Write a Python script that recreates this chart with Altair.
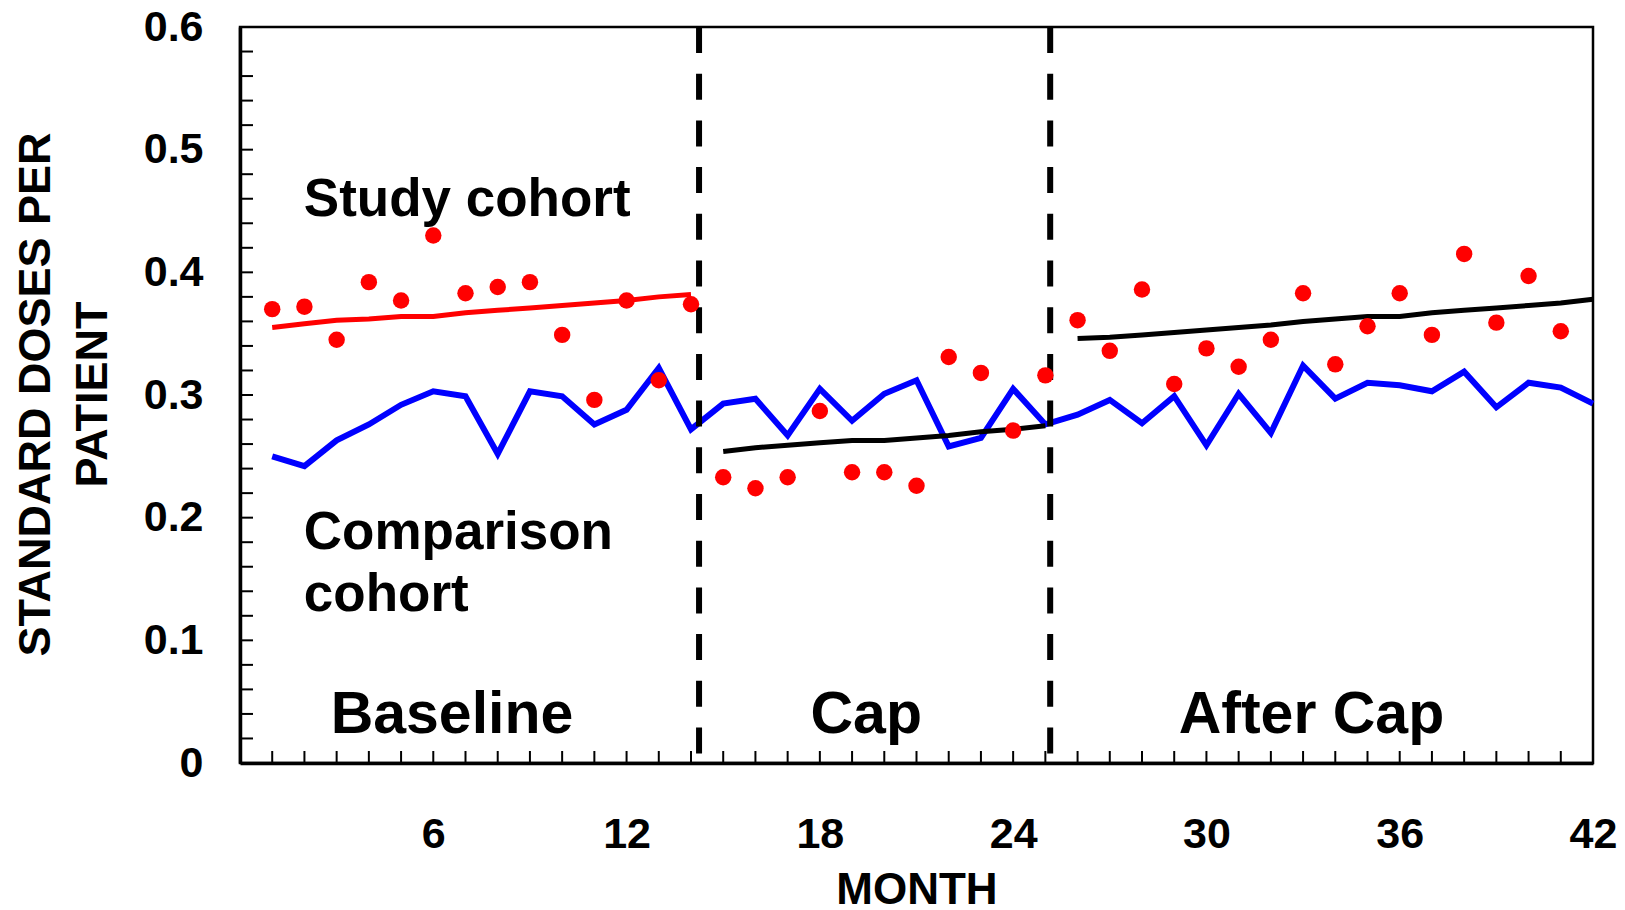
import altair as alt
import pandas as pd

# ---------------- data ----------------
months_all = list(range(1, 43))
comparison_cohort = [0.250, 0.242, 0.263, 0.276, 0.292, 0.303, 0.299, 0.252, 0.303, 0.299,
                     0.276, 0.288, 0.322, 0.272, 0.293, 0.297, 0.267, 0.305, 0.279, 0.301,
                     0.312, 0.258, 0.265, 0.305, 0.276, 0.284, 0.296, 0.277, 0.299, 0.259,
                     0.301, 0.269, 0.324, 0.297, 0.310, 0.308, 0.303, 0.319, 0.290, 0.310,
                     0.306, 0.293]

study_months = list(range(1, 42))
study_cohort = [0.370, 0.372, 0.345, 0.392, 0.377, 0.430, 0.383, 0.388, 0.392, 0.349,
                0.296, 0.377, 0.312, 0.374, 0.233, 0.224, 0.233, 0.287, 0.237, 0.237,
                0.226, 0.331, 0.318, 0.271, 0.316, 0.361, 0.336, 0.386, 0.309, 0.338,
                0.323, 0.345, 0.383, 0.325, 0.356, 0.383, 0.349, 0.415, 0.359, 0.397,
                0.352]

baseline_trend_months = list(range(1, 15))
baseline_trend = [0.355, 0.358, 0.361, 0.362, 0.364, 0.364, 0.367, 0.369, 0.371, 0.373,
                  0.375, 0.377, 0.380, 0.382]

cap_trend_months = list(range(15, 26))
cap_trend = [0.254, 0.257, 0.259, 0.261, 0.263, 0.263, 0.265, 0.267, 0.270, 0.272, 0.275]

after_trend_months = list(range(26, 43))
after_trend = [0.346, 0.347, 0.349, 0.351, 0.353, 0.355, 0.357, 0.360, 0.362, 0.364,
               0.364, 0.367, 0.369, 0.371, 0.373, 0.375, 0.378]

phase_bounds = [14.25, 25.15]

x_tick_labels = [6, 12, 18, 24, 30, 36, 42]
y_tick_labels = [0, 0.1, 0.2, 0.3, 0.4, 0.5, 0.6]
x_minor = list(range(1, 42))
y_minor = [round(0.02 * i, 2) for i in range(1, 30)]

note_text = ["Study cohort", "Comparison", "cohort"]
note_month = [1.98, 1.98, 1.98]
note_value = [0.446, 0.1744, 0.1243]

phase_text = ["Baseline", "Cap", "After Cap"]
phase_month = [6.58, 19.44, 33.26]
phase_value = [0.0245, 0.0245, 0.0245]

# ---------------- chart ----------------
W, H = 1353, 736
FONT = "Liberation Sans"
xs = alt.Scale(domain=[0, 42], nice=False, zero=False)
ys = alt.Scale(domain=[0, 0.6], nice=False, zero=False)

blue_df = pd.DataFrame({"m": months_all, "v": comparison_cohort})
red_df = pd.DataFrame({"m": study_months, "v": study_cohort})
rt_df = pd.DataFrame({"m": baseline_trend_months, "v": baseline_trend})
bt_df = pd.DataFrame({
    "m": cap_trend_months + after_trend_months,
    "v": cap_trend + after_trend,
    "seg": ["cap"] * len(cap_trend_months) + ["after"] * len(after_trend_months),
})
dash_df = pd.DataFrame({"m": phase_bounds})
xt_df = pd.DataFrame({"m": x_minor})
yt_df = pd.DataFrame({"v": y_minor})
note_df = pd.DataFrame({"t": note_text, "m": note_month, "v": note_value})
phase_df = pd.DataFrame({"t": phase_text, "m": phase_month, "v": phase_value})

x_axis = alt.Axis(
    values=x_tick_labels, title="MONTH", labelFont=FONT, labelFontSize=43,
    labelFontWeight="bold", labelColor="black", labelPadding=50, labelFlush=False,
    labelBaseline="top", labelAlign="center",
    ticks=False, tickSize=0, grid=False, domainColor="black", domainWidth=3.5,
    titleFont=FONT, titleFontSize=44, titleFontWeight="bold", titleColor="black",
    titleY=140, titleBaseline="alphabetic",
)
y_axis = alt.Axis(
    values=y_tick_labels,
    labelExpr="datum.value == 0 ? '0' : format(datum.value, '.1f')",
    labelFont=FONT, labelFontSize=43, labelFontWeight="bold", labelColor="black",
    labelPadding=37, labelAlign="right", labelBaseline="middle",
    ticks=False, tickSize=0, grid=False, domainColor="black", domainWidth=3.5,
    title=["STANDARD DOSES PER", "PATIENT"], titleFont=FONT, titleFontSize=45,
    titleFontWeight="bold", titleColor="black", titleAngle=270,
    titleX=-205, titleY=367, titleBaseline="middle", titleAlign="center",
    titleLineHeight=57,
)

X = alt.X("m:Q", scale=xs, axis=x_axis)
Y = alt.Y("v:Q", scale=ys, axis=y_axis)

blue = alt.Chart(blue_df).mark_line(color="#0000FF", strokeWidth=6).encode(x=X, y=Y)

red_trend = alt.Chart(rt_df).mark_line(color="#FF0000", strokeWidth=5).encode(x=X, y=Y)

black_trend = alt.Chart(bt_df).mark_line(color="black", strokeWidth=5).encode(
    x=X, y=Y, detail="seg:N",
)

dashes = alt.Chart(dash_df).mark_rule(
    color="black", strokeWidth=6, strokeDash=[26, 20.7]
).encode(x=X, y=alt.value(0), y2=alt.value(H))

dots = alt.Chart(red_df).mark_circle(color="#FF0000", size=270, opacity=1).encode(x=X, y=Y)

x_ticks = alt.Chart(xt_df).mark_rule(color="black", strokeWidth=2).encode(
    x=X, y=alt.value(H), y2=alt.value(H - 12),
)

y_ticks = alt.Chart(yt_df).mark_rule(color="black", strokeWidth=2).encode(
    y=Y, x=alt.value(0), x2=alt.value(13),
)

notes = alt.Chart(note_df).mark_text(
    font=FONT, fontSize=53, fontWeight="bold", color="black",
    align="left", baseline="alphabetic",
).encode(x=X, y=Y, text="t:N")

phases = alt.Chart(phase_df).mark_text(
    font=FONT, fontSize=59, fontWeight="bold", color="black",
    align="center", baseline="alphabetic",
).encode(x=X, y=Y, text="t:N")

chart = alt.layer(
    blue, y_ticks, x_ticks, red_trend, black_trend, dashes, dots, notes, phases
).properties(
    width=W, height=H,
    padding={"left": 240, "top": 27, "right": 32, "bottom": 147},
    autosize="none",
    background="white",
).configure_view(
    stroke="black", strokeWidth=2.5
)

chart.save("out.html", embed_options={"renderer": "svg", "actions": False})
